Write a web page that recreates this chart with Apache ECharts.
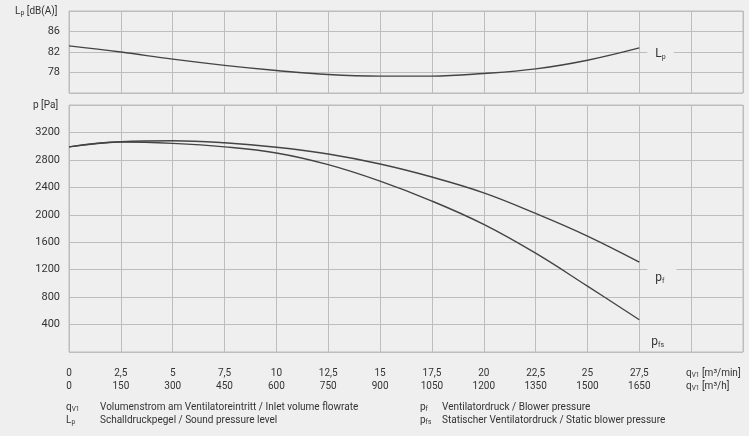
<!DOCTYPE html>
<html><head><meta charset="utf-8">
<script src="https://cdn.jsdelivr.net/npm/echarts@6/dist/echarts.min.js"></script>
<style>html,body{margin:0;padding:0;background:#ffffff;}#c{width:749px;height:436px;}</style>
</head><body><div id="c"></div>
<script>
// Flow rate (m³/min) and matching m³/h tick labels
const flowMin = [0, 2.5, 5, 7.5, 10, 12.5, 15, 17.5, 20, 22.5, 25, 27.5];
const flowMinLabels = ['0','2,5','5','7,5','10','12,5','15','17,5','20','22,5','25','27,5'];
const flowHourLabels = ['0','150','300','450','600','750','900','1050','1200','1350','1500','1650'];
// Sound pressure level Lp [dB(A)]
const lp = [83.2, 82.0, 80.6, 79.4, 78.4, 77.6, 77.3, 77.3, 77.8, 78.7, 80.4, 82.8];
// Blower pressure pf [Pa]
const pf = [2990, 3065, 3080, 3050, 2985, 2885, 2740, 2550, 2320, 2020, 1690, 1310];
// Static blower pressure pfs [Pa]
const pfs = [2990, 3060, 3040, 2990, 2900, 2730, 2490, 2200, 1860, 1440, 960, 470];
const lpTicks = [78, 82, 86];
const pTicks = [400, 800, 1200, 1600, 2000, 2400, 2800, 3200];

const BG = '#efefef', GRID = '#bdbdbd', TXT = '#333333', LINE = '#444444';
const FONT = 'Roboto';
const pair = (xs, ys) => xs.map((x, i) => [x, ys[i]]);
const xLabel = v => {
  const i = flowMin.findIndex(f => Math.abs(f - v) < 1e-6);
  return i < 0 ? '' : flowMinLabels[i] + '\n' + flowHourLabels[i];
};
const sub = {fontSize: 7, fontFamily: FONT, color: TXT, verticalAlign: 'bottom', padding: [6, 0, 0, 0]};
const subG = {fontSize: 6.5, fontFamily: FONT, fill: TXT, padding: [5, 0, 0, 0]};
const mainG = {fontSize: 10, fontFamily: FONT, fill: TXT};
const chart = echarts.init(document.getElementById('c'));
chart.setOption({
  backgroundColor: BG,
  animation: false,
  grid: [
    {left: 69, right: 6, top: 11, height: 82, show: true, borderColor: GRID, borderWidth: 1},
    {left: 69, right: 6, top: 105, height: 247, show: true, borderColor: GRID, borderWidth: 1}
  ],
  xAxis: [
    {gridIndex: 0, type: 'value', min: 0, max: 32.5, interval: 2.5,
     axisLine: {show: false}, axisTick: {show: false}, axisLabel: {show: false},
     splitLine: {lineStyle: {color: GRID, width: 1}}},
    {gridIndex: 1, type: 'value', min: 0, max: 32.5, interval: 2.5,
     axisLine: {show: false}, axisTick: {show: false},
     axisLabel: {formatter: xLabel, color: TXT, fontFamily: FONT, fontSize: 10, lineHeight: 13, margin: 15},
     splitLine: {lineStyle: {color: GRID, width: 1}}}
  ],
  yAxis: [
    {gridIndex: 0, type: 'value', min: 74, max: 90, interval: 4,
     axisLine: {show: false}, axisTick: {show: false},
     axisLabel: {formatter: v => lpTicks.includes(v) ? String(v) : '', color: TXT, fontFamily: FONT, fontSize: 11, margin: 9},
     splitLine: {lineStyle: {color: GRID, width: 1}}},
    {gridIndex: 1, type: 'value', min: 0, max: 3600, interval: 400,
     axisLine: {show: false}, axisTick: {show: false},
     axisLabel: {formatter: v => pTicks.includes(v) ? String(v) : '', color: TXT, fontFamily: FONT, fontSize: 11, margin: 9},
     splitLine: {lineStyle: {color: GRID, width: 1}}}
  ],
  series: [
    {type: 'line', xAxisIndex: 0, yAxisIndex: 0, data: pair(flowMin, lp), smooth: 0.4, symbol: 'none',
     lineStyle: {color: LINE, width: 1.4},
     endLabel: {show: true, formatter: '{a|L}{s|p}', offset: [0, 6], backgroundColor: BG, padding: [3, 8, 3, 8],
       rich: {a: {fontSize: 12, fontFamily: FONT, color: TXT}, s: sub}}},
    {type: 'line', xAxisIndex: 1, yAxisIndex: 1, data: pair(flowMin, pf), smooth: 0.4, symbol: 'none',
     lineStyle: {color: LINE, width: 1.4},
     endLabel: {show: true, formatter: '{a|p}{s|f}', offset: [0, 16], backgroundColor: BG, padding: [4, 12, 4, 8],
       rich: {a: {fontSize: 12, fontFamily: FONT, color: TXT}, s: sub}}},
    {type: 'line', xAxisIndex: 1, yAxisIndex: 1, data: pair(flowMin, pfs), smooth: 0.4, symbol: 'none',
     lineStyle: {color: LINE, width: 1.4},
     endLabel: {show: true, formatter: '{a|p}{s|fs}', offset: [2, 22], padding: [0, 0, 0, 2],
       rich: {a: {fontSize: 12, fontFamily: FONT, color: TXT}, s: sub}}}
  ],
  graphic: [
    {type: 'text', left: 15, top: 6, style: {text: '{a|L}{s|p}{a| [dB(A)]}', rich: {a: mainG, s: {fontSize: 7, fontFamily: FONT, fill: TXT, padding: [5, 0, 0, 0]}}}},
    {type: 'text', left: 33, top: 100, style: {text: 'p [Pa]', fontSize: 10, fontFamily: FONT, fill: TXT}},
    {type: 'text', left: 686, top: 368, style: {text: '{a|q}{s|V1}{a| [m³/min]}', rich: {a: mainG, s: subG}}},
    {type: 'text', left: 686, top: 381, style: {text: '{a|q}{s|V1}{a| [m³/h]}', rich: {a: mainG, s: subG}}},
    {type: 'text', left: 66, top: 402, style: {text: '{a|q}{s|V1}', rich: {a: mainG, s: subG}}},
    {type: 'text', left: 100, top: 402, style: {text: 'Volumenstrom am Ventilatoreintritt / Inlet volume flowrate', fontSize: 10, fontFamily: FONT, fill: TXT}},
    {type: 'text', left: 66, top: 415, style: {text: '{a|L}{s|p}', rich: {a: mainG, s: subG}}},
    {type: 'text', left: 100, top: 415, style: {text: 'Schalldruckpegel / Sound pressure level', fontSize: 10, fontFamily: FONT, fill: TXT}},
    {type: 'text', left: 420, top: 402, style: {text: '{a|p}{s|f}', rich: {a: mainG, s: subG}}},
    {type: 'text', left: 442, top: 402, style: {text: 'Ventilatordruck / Blower pressure', fontSize: 10, fontFamily: FONT, fill: TXT}},
    {type: 'text', left: 420, top: 415, style: {text: '{a|p}{s|fs}', rich: {a: mainG, s: subG}}},
    {type: 'text', left: 442, top: 415, style: {text: 'Statischer Ventilatordruck / Static blower pressure', fontSize: 10, fontFamily: FONT, fill: TXT}}
  ]
});
</script></body></html>
